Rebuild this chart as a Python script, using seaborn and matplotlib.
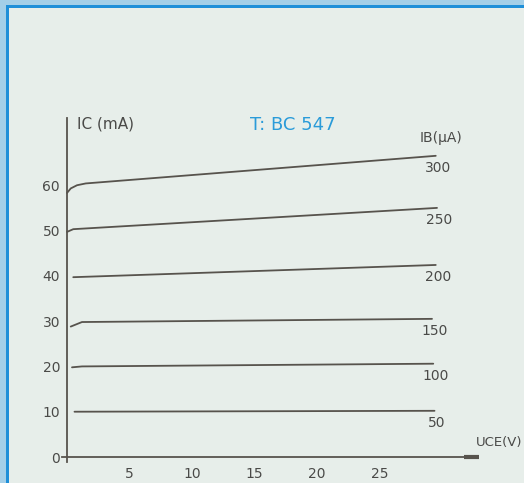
import numpy as np
import pandas as pd
import matplotlib
matplotlib.use('Agg')
import matplotlib.pyplot as plt
import seaborn as sns
from matplotlib.patches import Rectangle

# Curve data: IC (mA) vs UCE (V) for each base current
ib_values = [300, 250, 200, 150, 100, 50]
uce_300 = [0.0, 0.3, 0.8, 1.5, 29.5]
ic_300 = [58.3, 59.3, 60.0, 60.4, 66.5]
uce_250 = [0.0, 0.5, 29.6]
ic_250 = [49.7, 50.3, 55.0]
uce_200 = [0.5, 29.5]
ic_200 = [39.7, 42.4]
uce_150 = [0.3, 1.2, 29.2]
ic_150 = [28.8, 29.8, 30.5]
uce_100 = [0.4, 1.2, 29.3]
ic_100 = [19.8, 20.0, 20.6]
uce_50 = [0.6, 29.4]
ic_50 = [10.0, 10.2]

y_ticks = [0, 10, 20, 30, 40, 50, 60]
x_ticks = [5, 10, 15, 20, 25]

curves = {300: (uce_300, ic_300), 250: (uce_250, ic_250), 200: (uce_200, ic_200),
          150: (uce_150, ic_150), 100: (uce_100, ic_100), 50: (uce_50, ic_50)}
rows = []
for ib in ib_values:
    for u, i in zip(*curves[ib]):
        rows.append({'IB': ib, 'UCE': u, 'IC': i})
df = pd.DataFrame(rows)

bg = '#e7eeea'
ink = '#57534d'
txt = '#4a4a48'
blue = '#2a9bd9'

sns.set_style('white')
plt.rcParams['font.family'] = ['DejaVu Sans']

fig = plt.figure(figsize=(5.24, 4.83), dpi=100, facecolor=bg)
ax = fig.add_axes([0, 0, 1, 1])
ax.set_facecolor('none')

sns.lineplot(data=df, x='UCE', y='IC', hue='IB', units='IB', estimator=None,
             palette=[ink] * len(ib_values), linewidth=1.3, legend=False, ax=ax,
             sort=False)

ax.set_xlim(-5.36, 36.56)
ax.set_ylim(-5.74, 100.9)

for s in ['top', 'right']:
    ax.spines[s].set_visible(False)
ax.spines['left'].set_position(('data', 0))
ax.spines['bottom'].set_position(('data', 0))
ax.spines['left'].set_bounds(-1.2, 74.8)
ax.spines['bottom'].set_bounds(-0.4, 31.8)
for s in ['left', 'bottom']:
    ax.spines[s].set_color(ink)
    ax.spines[s].set_linewidth(1.3)
# thick end of the UCE axis
ax.plot([31.8, 33.0], [0, 0], color=ink, linewidth=3.0, solid_capstyle='butt')

ax.set_yticks(y_ticks)
ax.set_yticklabels([str(v) for v in y_ticks])
ax.set_xticks(x_ticks)
ax.set_xticklabels([str(v) for v in x_ticks])
ax.tick_params(axis='y', direction='inout', length=4, width=1, color=ink,
               labelsize=10, labelcolor=txt, pad=3)
ax.tick_params(axis='x', length=0, labelsize=10, labelcolor=txt, pad=7)
ax.set_xlabel('')
ax.set_ylabel('')

# curve labels below the right end of each line
for ib in ib_values:
    u, i = curves[ib]
    ax.text(u[-1] + 0.2, i[-1] - 2.7, str(ib), ha='center', va='center',
            fontsize=10, color=txt)

ax.text(0.8, 73.6, 'IC (mA)', ha='left', va='center', fontsize=11, color=txt)
ax.text(18.1, 73.4, 'T: BC 547', ha='center', va='center', fontsize=13, color=blue)
ax.text(29.9, 70.4, 'IB(µA)', ha='center', va='center', fontsize=10, color=txt)
ax.text(32.7, 3.3, 'UCE(V)', ha='left', va='center', fontsize=9.5, color=txt)

# blue frame on the left and top edges
W, H = 524, 483
fig.add_artist(Rectangle((0, 0), 6 / W, 1, transform=fig.transFigure,
                         facecolor='#a4cfe8', edgecolor='none'))
fig.add_artist(Rectangle((0, 1 - 5 / H), 1, 5 / H, transform=fig.transFigure,
                         facecolor='#a4cfe8', edgecolor='none'))
fig.add_artist(Rectangle((6 / W, 0), 2.5 / W, 1 - 5 / H, transform=fig.transFigure,
                         facecolor='#1f8fd8', edgecolor='none'))
fig.add_artist(Rectangle((6 / W, 1 - 8 / H), 1, 3 / H, transform=fig.transFigure,
                         facecolor='#1f8fd8', edgecolor='none'))

fig.savefig('out.png', dpi=100, facecolor=bg)
